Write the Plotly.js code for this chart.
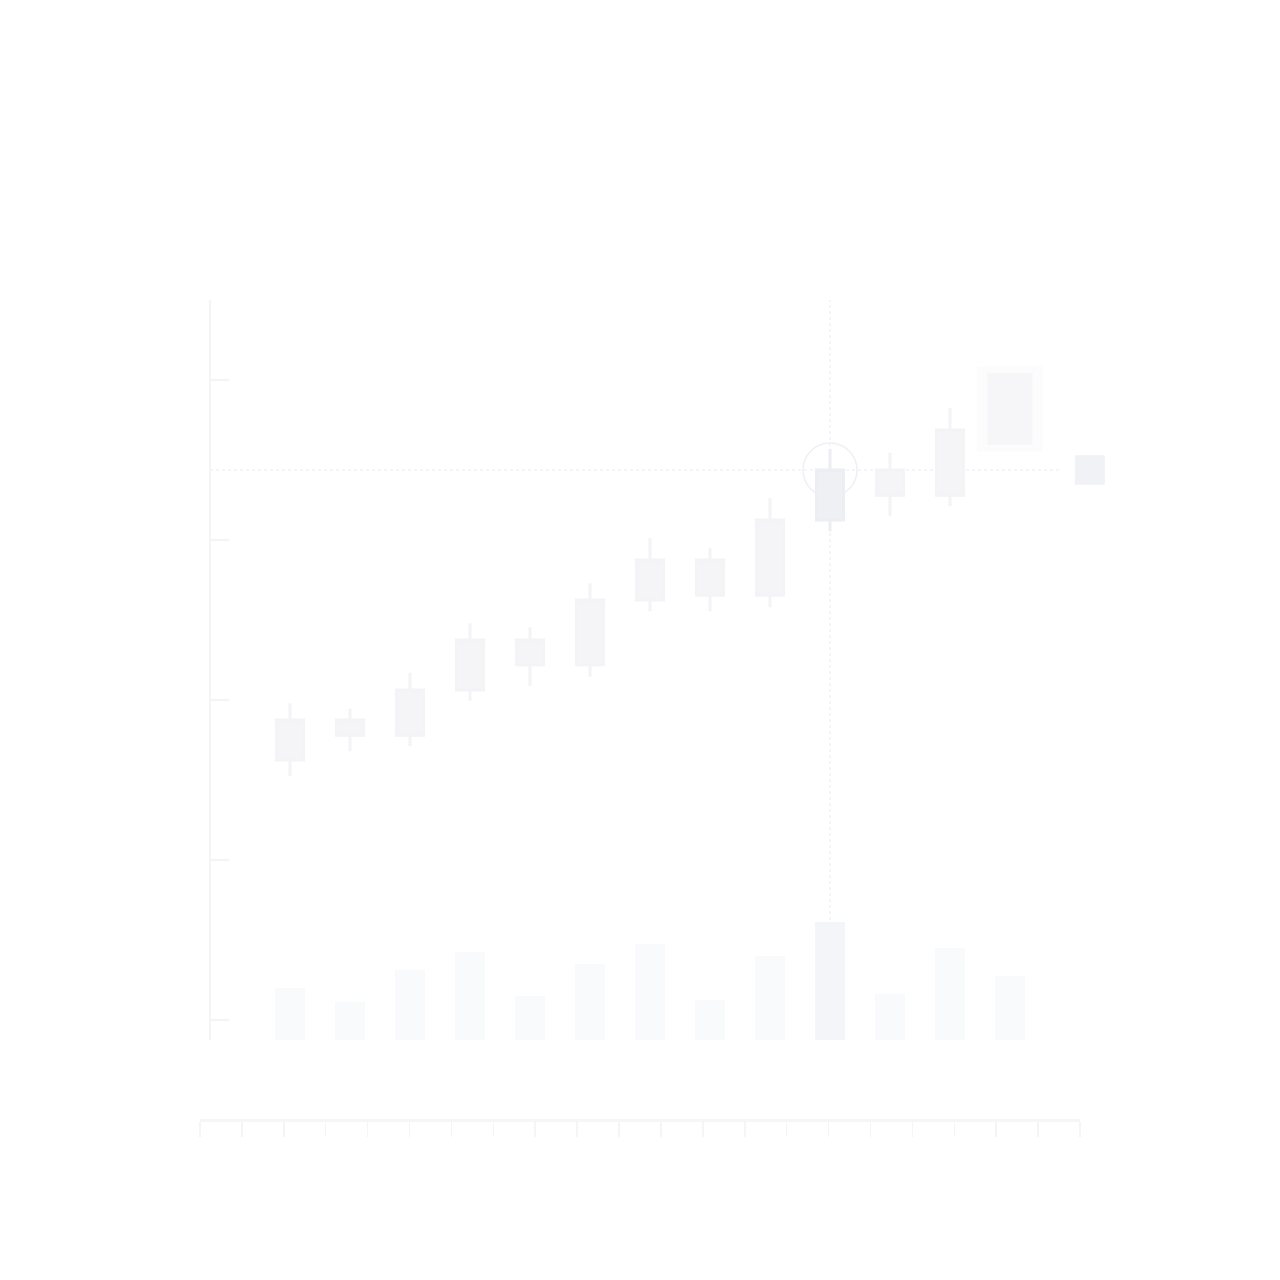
<!DOCTYPE html>
<html>
<head>
<meta charset="utf-8">
<script src="https://cdn.plot.ly/plotly-3.0.1.min.js"></script>
<style>html,body{margin:0;padding:0;background:#fff;}#chart{width:1280px;height:1280px;}</style>
</head>
<body>
<div id="chart"></div>
<script>
// ---- data ----
const periods = [0,1,2,3,4,5,6,7,8,9,10,11];
const openVals  = [32.5,35.6,35.6,41.25,44.4,44.4,52.5,53.1,53.1,62.5,65.6,65.6];
const closeVals = [37.5,37.5,41.25,47.5,47.5,52.5,57.5,57.5,62.5,68.75,68.75,73.75];
const highVals  = [39.6,38.9,43.4,49.6,49.1,54.6,60.25,59.0,65.25,71.4,70.9,76.5];
const lowVals   = [30.5,33.6,34.25,39.9,41.75,42.9,51.1,51.1,51.6,61.1,63.0,64.25];
const volPeriods = [0,1,2,3,4,5,6,7,8,9,10,11,12];
const volumes = [10.4,7.6,14.0,17.6,8.8,15.2,19.2,8.0,16.8,23.6,9.2,18.4,12.8];
const highlightIndex = 9;
const cloudPeriod = [12];
const cloudLow = [71.9];
const cloudHigh = [80.9];
const lastPeriod = [13.33];
const lastLow = [66.9];
const lastHigh = [70.6];
const bottomTicks = [0,1,2,3,4,5,6,7,8,9,10,11,12,13,14,15,16,17,18,19,20,21];

// ---- styles ----
const bodyCol = '#f5f5f8', wickCol = '#f4f4f7';
const hiBody = '#eff0f4', hiWick = '#edeef3';
const volCol = '#f9fafc', volHi = '#f4f5f8';
const axisCol = '#f4f4f7';

const idxBase = periods.filter(i => i !== highlightIndex);
const pick = (arr, ids) => ids.map(i => arr[i]);

const traces = [
  { type:'bar', x:volPeriods, y:volumes, yaxis:'y2', width:0.5,
    marker:{color: volPeriods.map(i => i === highlightIndex ? volHi : volCol)}, hoverinfo:'skip' },
  { type:'bar', x:cloudPeriod, base:cloudLow.map(v=>v-0.8), y:cloudHigh.map((v,i)=>v-cloudLow[i]+1.6), width:1.1,
    marker:{color:'#fcfcfd'}, hoverinfo:'skip' },
  { type:'bar', x:cloudPeriod, base:cloudLow, y:cloudHigh.map((v,i)=>v-cloudLow[i]), width:0.75,
    marker:{color:'#f6f6f9'}, hoverinfo:'skip' },
  { type:'bar', x:lastPeriod, base:lastLow, y:lastHigh.map((v,i)=>v-lastLow[i]), width:0.5,
    marker:{color:'#f1f2f6'}, hoverinfo:'skip' },
  { type:'candlestick', x:pick(periods,idxBase), open:pick(openVals,idxBase), close:pick(closeVals,idxBase),
    high:pick(highVals,idxBase), low:pick(lowVals,idxBase),
    increasing:{fillcolor:bodyCol, line:{color:wickCol, width:3}},
    decreasing:{fillcolor:bodyCol, line:{color:wickCol, width:3}}, hoverinfo:'skip' },
  { type:'candlestick', x:[periods[highlightIndex]], open:[openVals[highlightIndex]], close:[closeVals[highlightIndex]],
    high:[highVals[highlightIndex]], low:[lowVals[highlightIndex]],
    increasing:{fillcolor:hiBody, line:{color:hiWick, width:3}},
    decreasing:{fillcolor:hiBody, line:{color:hiWick, width:3}}, hoverinfo:'skip' },
  { type:'scatter', mode:'markers', x:[periods[highlightIndex]], y:[closeVals[highlightIndex]],
    marker:{symbol:'circle-open', size:54, color:'#eef0f5', line:{width:1.5, color:'#eef0f5'}}, hoverinfo:'skip' },
  { type:'scatter', mode:'markers', x:[0], y:[0], xaxis:'x2', yaxis:'y3',
    marker:{opacity:0, size:1}, hoverinfo:'skip' }
];

const layout = {
  width:1280, height:1280, margin:{l:0,r:0,t:0,b:0},
  paper_bgcolor:'#ffffff', plot_bgcolor:'rgba(0,0,0,0)',
  showlegend:false, barmode:'overlay', boxgap:0.55, boxgroupgap:0,
  xaxis:{domain:[211/1280, 1120/1280], range:[(211-290)/60, (1120-290)/60], showgrid:false, zeroline:false,
    showline:false, showticklabels:false, ticks:'', rangeslider:{visible:false}, fixedrange:true},
  yaxis:{domain:[240/1280, 980/1280], range:[-2.5, 90], showgrid:false, zeroline:false,
    showline:true, linecolor:axisCol, linewidth:2.5, ticks:'inside', ticklen:18, tickwidth:2,
    tickcolor:axisCol, tickmode:'array', tickvals:[0,20,40,60,80], showticklabels:false, fixedrange:true},
  yaxis2:{overlaying:'y', range:[0,148], showgrid:false, zeroline:false, showline:false,
    showticklabels:false, ticks:''},
  yaxis3:{domain:[161.5/1280, 171/1280], anchor:'x2', visible:false, range:[0,1]},
  xaxis2:{domain:[200/1280, 1080/1280], anchor:'y3', side:'bottom', range:[0,21],
    tickmode:'array', tickvals:bottomTicks, ticks:'outside', ticklen:15, tickwidth:1.5, tickcolor:'#f5f5f7',
    showline:true, linecolor:'#f5f6f8', linewidth:3, showticklabels:false, showgrid:false, zeroline:false},
  shapes:[
    { type:'line', xref:'x', yref:'paper', x0:periods[highlightIndex], x1:periods[highlightIndex],
      y0:240/1280, y1:980/1280, line:{color:'#f1f2f6', width:1.5, dash:'dot'}, layer:'below' },
    { type:'line', xref:'paper', yref:'y', x0:210/1280, x1:1060/1280,
      y0:closeVals[highlightIndex], y1:closeVals[highlightIndex], line:{color:'#f1f2f6', width:1.5, dash:'dot'}, layer:'below' }
  ]
};

Plotly.newPlot('chart', traces, layout, {staticPlot:true, displayModeBar:false});
</script>
</body>
</html>
